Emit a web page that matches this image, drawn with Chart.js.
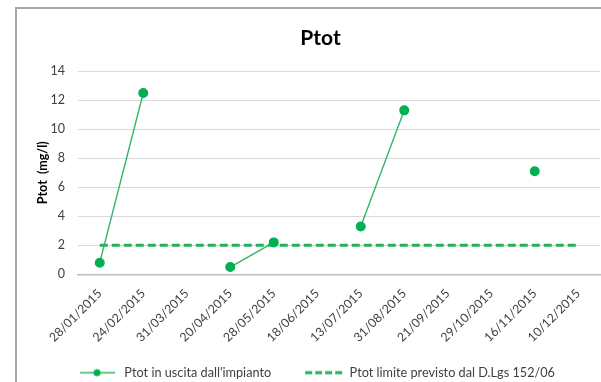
<!DOCTYPE html>
<html>
<head>
<meta charset="utf-8">
<script src="https://cdn.jsdelivr.net/npm/chart.js@4.4.1/dist/chart.umd.min.js"></script>
<style>
  html, body { margin: 0; padding: 0; background: #fff; overflow: hidden; }
  #frame {
    position: absolute; left: 15px; top: 7px;
    width: 612px; height: 390px;
    border-left: 2px solid #a6a6a6; border-top: 2px solid #a6a6a6;
    background: #fff;
  }
  #wrap { position: absolute; left: 0; top: 0; width: 612px; height: 380px; }
</style>
</head>
<body>
<div id="frame"><div id="wrap"><canvas id="ptotChart"></canvas></div></div>
<script>
// dates of the samples (category axis)
const dates = ["28/01/2015", "24/02/2015", "31/03/2015", "20/04/2015", "28/05/2015", "18/06/2015",
               "13/07/2015", "31/08/2015", "21/09/2015", "29/10/2015", "16/11/2015", "10/12/2015"];
// Ptot at the plant outlet (mg/l) - null = no value
const ptotOut = [0.8, 12.5, null, 0.5, 2.2, null, 3.3, 11.3, null, null, 7.1, null];
// legal limit D.Lgs 152/06
const ptotLimit = [2, 2, 2, 2, 2, 2, 2, 2, 2, 2, 2, 2];
const yTicks = [0, 2, 4, 6, 8, 10, 12, 14];

const FONT = "Lato, 'Open Sans', sans-serif";
const GREEN = '#00b050';
const LINE_GREEN = '#33b56a';
const DASH_GREEN = '#22b05a';

// legend symbols: blank gap on the left, then line + dot / dashed line
function legendIcon(dashed) {
    const c = document.createElement('canvas');
    c.width = 62; c.height = 10;
    const g = c.getContext('2d');
    if (dashed) {
        g.strokeStyle = DASH_GREEN;
        g.lineWidth = 3;
        g.setLineDash([7, 3]);
        g.beginPath(); g.moveTo(24, 5); g.lineTo(62, 5); g.stroke();
    } else {
        g.strokeStyle = LINE_GREEN;
        g.lineWidth = 1.5;
        g.beginPath(); g.moveTo(24, 5); g.lineTo(59, 5); g.stroke();
        g.fillStyle = GREEN;
        g.beginPath(); g.arc(41, 5, 3.5, 0, Math.PI * 2); g.fill();
    }
    return c;
}
const legendIcons = [legendIcon(false), legendIcon(true)];

// Excel centres title/legend slightly to the right of the canvas middle
const shiftBlocks = {
    id: 'shiftBlocks',
    afterLayout(ch) {
        if (ch.titleBlock) { ch.titleBlock.left += 12; ch.titleBlock.right += 12; }
        if (ch.legend) { ch.legend.left -= 3; ch.legend.right -= 3; }
    }
};

const chart = new Chart(document.getElementById('ptotChart'), {
    type: 'line',
    data: {
        labels: dates,
        datasets: [
            {
                label: "Ptot in uscita dall'impianto",
                data: ptotOut,
                borderColor: LINE_GREEN,
                backgroundColor: GREEN,
                borderWidth: 1.4,
                pointRadius: 4.3,
                pointBackgroundColor: GREEN,
                pointBorderColor: GREEN,
                spanGaps: false,
                tension: 0
            },
            {
                label: "Ptot limite previsto dal D.Lgs 152/06",
                data: ptotLimit,
                borderColor: DASH_GREEN,
                borderWidth: 3,
                borderDash: [8, 4],
                pointRadius: 0,
                fill: false,
                tension: 0
            }
        ]
    },
    plugins: [shiftBlocks],
    options: {
        responsive: true,
        maintainAspectRatio: false,
        animation: false,
        layout: { padding: { left: 0, right: 29, top: 0, bottom: 0 } },
        plugins: {
            title: {
                display: true,
                text: 'Ptot',
                color: '#000',
                font: { family: FONT, size: 21, weight: 'bold' },
                padding: { top: 17, bottom: 20 }
            },
            legend: {
                position: 'bottom',
                labels: {
                    usePointStyle: true,
                    pointStyleWidth: 62,
                    color: '#404040',
                    font: { family: FONT, size: 12.7 },
                    padding: 10,
                    generateLabels(ch) {
                        return ch.data.datasets.map((ds, i) => ({
                            text: ds.label,
                            pointStyle: legendIcons[i],
                            fontColor: '#404040',
                            datasetIndex: i,
                            lineWidth: 0,
                            hidden: false
                        }));
                    }
                }
            },
            tooltip: { enabled: false }
        },
        scales: {
            x: {
                offset: true,
                grid: { display: false, offset: true },
                border: { display: true, color: '#bfbfbf', width: 1.5 },
                ticks: {
                    color: '#404040',
                    font: { family: FONT, size: 12.3 },
                    minRotation: 45, maxRotation: 45,
                    autoSkip: false,
                    padding: 4
                },
                afterFit(scale) { scale.height = 82; }
            },
            y: {
                min: 0, max: 14,
                afterBuildTicks(scale) { scale.ticks = yTicks.map(v => ({ value: v })); },
                grid: { color: '#d9d9d9', drawTicks: false, lineWidth: 1 },
                border: { display: false },
                ticks: {
                    color: '#404040',
                    font: { family: FONT, size: 12.5 },
                    padding: 13
                },
                title: {
                    display: true,
                    text: 'Ptot  (mg/l)',
                    color: '#000',
                    font: { family: FONT, size: 12.5, weight: 'bold' },
                    padding: { top: 18, bottom: 0 }
                },
                afterFit(scale) { scale.width = 61; }
            }
        }
    }
});
</script>
</body>
</html>
